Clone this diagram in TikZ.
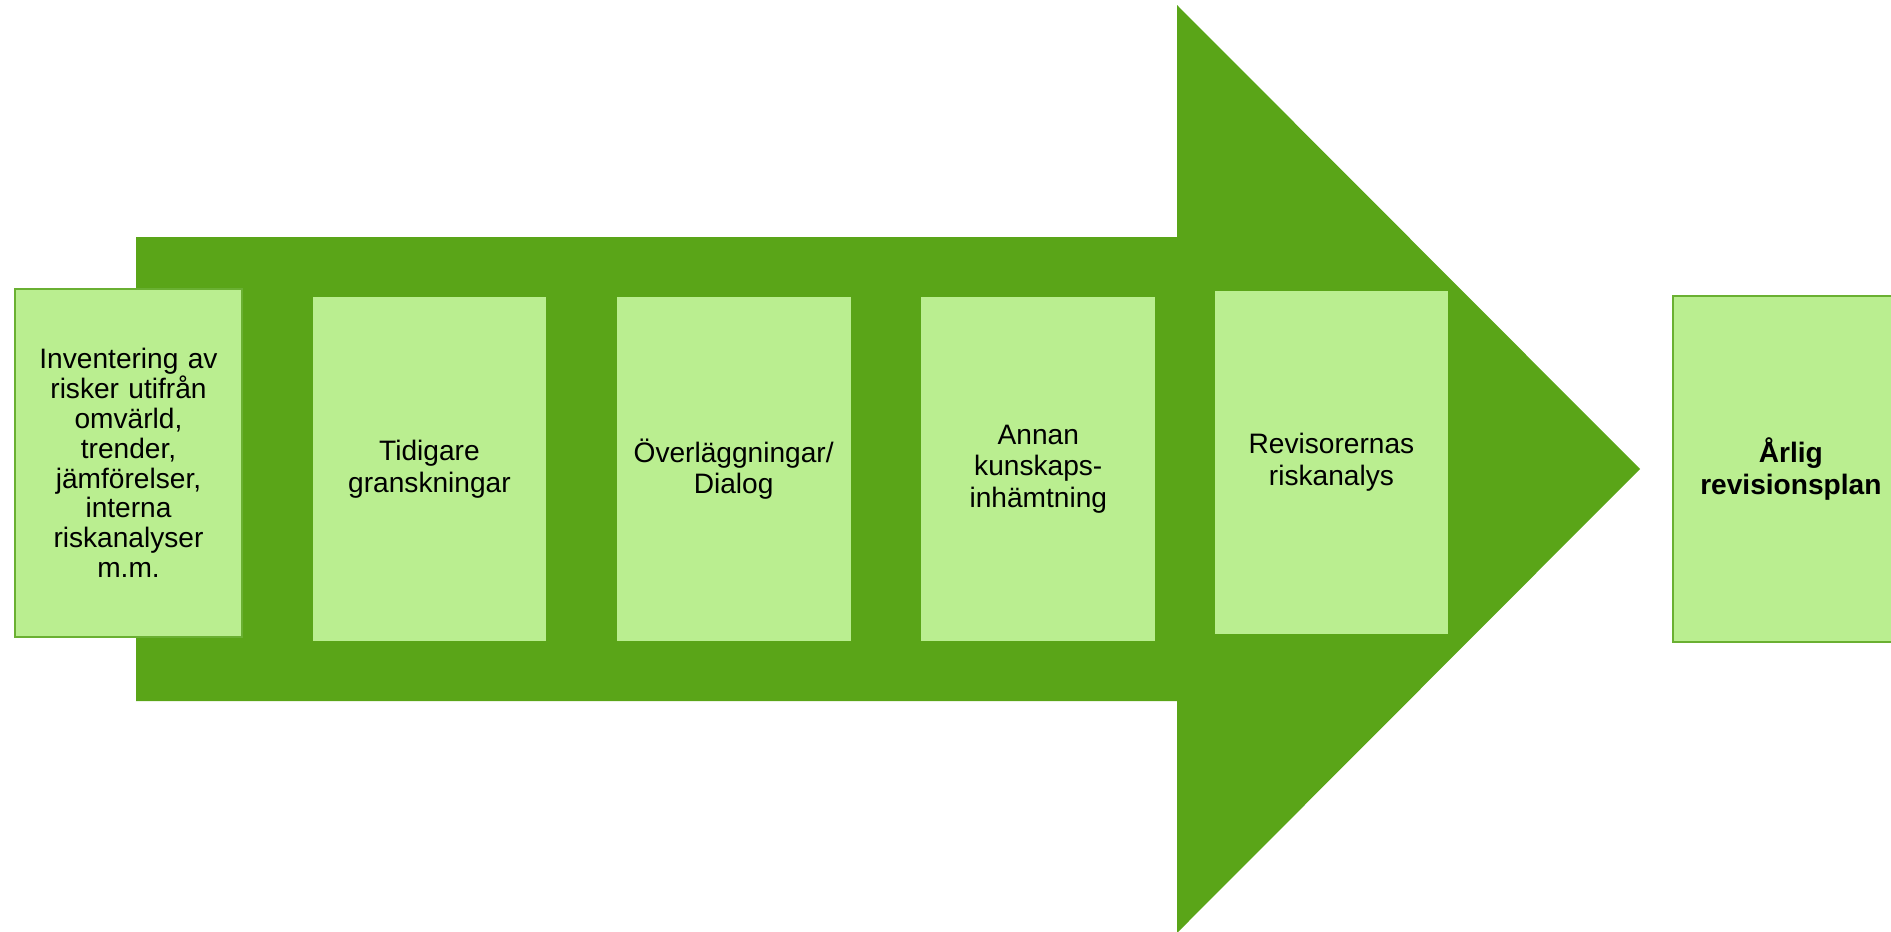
\documentclass[tikz,border=0pt]{standalone}
\usepackage{fontspec}
\setmainfont{Liberation Sans}
\usepackage{tikz}
\usetikzlibrary{positioning}
\usepackage{xcolor}
\definecolor{arrowgreen}{RGB}{90,165,24}
\definecolor{boxgreen}{RGB}{186,238,144}
\definecolor{edgegreen}{RGB}{106,176,50}

\begin{document}
\begin{tikzpicture}[x=0.02cm, y=-0.02cm, every node/.style={font=\fontsize{16}{18}\selectfont}]
\tikzstyle{stepbox}=[fill=boxgreen, align=center, inner sep=2pt, text width=4.3cm, minimum width=4.68cm, minimum height=6.88cm]
\tikzstyle{endbox}=[stepbox, draw=edgegreen, line width=0.8pt]
\useasboundingbox (0,0) rectangle (1891,931);
% the big arrow
\fill[arrowgreen] (136,237) -- (1177,237) -- (1177,5) -- (1640,469)
  -- (1177,933) -- (1177,701) -- (136,701) -- cycle;
% the steps
\node[endbox, minimum width=4.54cm, minimum height=6.96cm, font=\fontsize{16}{17}\selectfont] (inventering) at (128.5,463)
  {Inventering av\\ risker utifrån\\ omvärld,\\ trender,\\ jämförelser,\\ interna\\ riskanalyser\\ m.m.};
\node[stepbox, right=1.39cm of inventering, yshift=-0.12cm] (granskningar) {Tidigare\\ granskningar};
\node[stepbox, right=1.39cm of granskningar] (dialog) {Överläggningar/\\ Dialog};
\node[stepbox, right=1.4cm of dialog] (kunskap) {Annan\\ kunskaps-\\ inhämtning};
\node[stepbox, right=1.18cm of kunskap, yshift=0.13cm, minimum width=4.66cm, minimum height=6.86cm] (riskanalys) {Revisorernas\\ riskanalys};
\node[endbox, right=4.48cm of riskanalys, yshift=-0.13cm, minimum width=4.72cm, minimum height=6.92cm, font=\fontsize{16}{18}\selectfont\bfseries] (plan) {Årlig\\ revisionsplan};
\end{tikzpicture}
\end{document}
